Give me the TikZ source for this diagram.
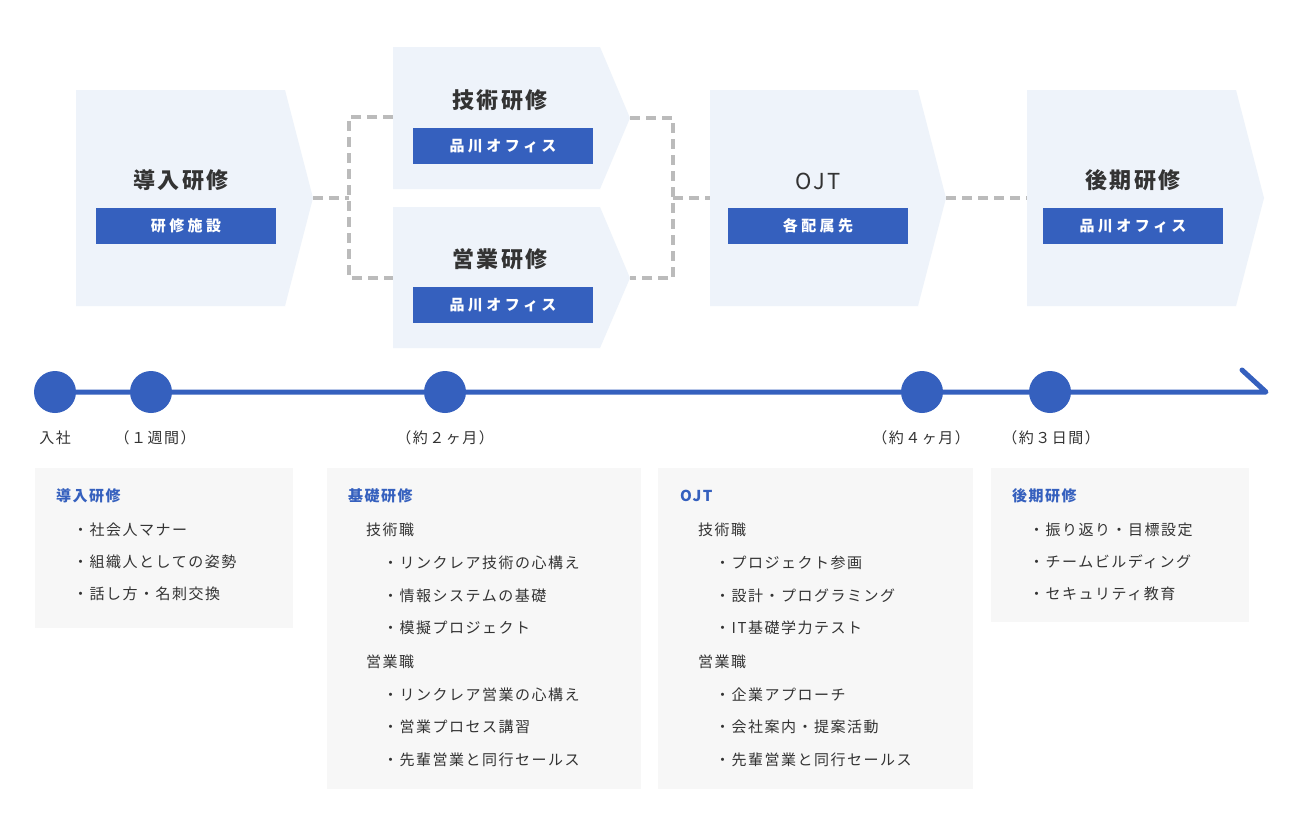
\documentclass[tikz,border=0pt]{standalone}
\usepackage{fontspec}
\setmainfont{Noto Sans CJK JP}
\newfontfamily\spacedfam[LetterSpace=10]{Noto Sans CJK JP}
\newfontfamily\placefam[LetterSpace=23]{Noto Sans CJK JP}
\usetikzlibrary{calc}
\definecolor{chevfill}{HTML}{EEF3FA}
\definecolor{mainblue}{HTML}{3560BE}
\definecolor{dashgray}{HTML}{BBBBBB}
\definecolor{boxgray}{HTML}{F7F7F7}
\definecolor{textdark}{HTML}{333333}

\begin{document}
\begin{tikzpicture}[x=1pt,y=-1pt,
  chev/.style={fill=chevfill},
  stage/.style={text=textdark,inner sep=0pt,font=\spacedfam\bfseries\fontsize{22}{26}\selectfont},
  place/.style={fill=mainblue,text=white,minimum width=180pt,minimum height=36pt,inner sep=0pt,
    font=\placefam\bfseries\fontsize{15}{18}\selectfont},
  dashlink/.style={draw=dashgray,line width=3.2pt,dash pattern=on 10pt off 6pt},
  dot/.style={circle,fill=mainblue,minimum size=42pt,inner sep=0pt},
  tline/.style={draw=mainblue,line width=5pt,line cap=round,line join=round},
  when/.style={text=textdark,inner sep=0pt,font=\spacedfam\fontsize{15}{18}\selectfont},
  infobox/.style={fill=boxgray,anchor=north west,inner sep=0pt},
  head/.style={anchor=west,text=mainblue,inner sep=0pt,font=\spacedfam\bfseries\fontsize{15}{18}\selectfont},
  item/.style={anchor=west,text=textdark,inner sep=0pt,font=\spacedfam\fontsize{15}{18}\selectfont}]
  \fill[white] (0,0) rectangle (1300,839);
  \useasboundingbox (0,0) rectangle (1300,839);

  \coordinate (fork-l) at (349,198);
  \coordinate (fork-r) at (673,198);
  \coordinate (tech-in) at (393,117);
  \coordinate (sales-in) at (393,278);
  \coordinate (ojt-in) at (710,198);
  \coordinate (late-in) at (1027,198);

  \fill[chev] (76,90) -- (285,90) -- (313,198) coordinate (intro-tip) -- (285,306) -- (76,306) -- cycle;
  \fill[chev] (393,47) -- (600,47) -- (630,118) coordinate (tech-tip) -- (600,189) -- (393,189) -- cycle;
  \fill[chev] (393,207) -- (600,207) -- (630,278) coordinate (sales-tip) -- (600,348) -- (393,348) -- cycle;
  \fill[chev] (710,90) -- (918,90) -- (946,198) coordinate (ojt-tip) -- (918,306) -- (710,306) -- cycle;
  \fill[chev] (1027,90) -- (1236,90) -- (1264,198) -- (1236,306) -- (1027,306) -- cycle;

  \draw[dashlink] (intro-tip) -- (fork-l);
  \draw[dashlink] (tech-in) -| (fork-l) |- (sales-in);
  \draw[dashlink] (tech-tip) -| (fork-r) |- (sales-tip);
  \draw[dashlink] (fork-r) -- (ojt-in);
  \draw[dashlink] (ojt-tip) -- (late-in);

  \node[stage] (intro) at (181,180) {導入研修};
  \node[place] (intro-p) at (186,226) {研修施設};
  \node[stage] (tech) at (500,100) {技術研修};
  \node[place] (tech-p) at (503,146) {品川オフィス};
  \node[stage] (sales) at (500,259) {営業研修};
  \node[place] (sales-p) at (503,305) {品川オフィス};
  \node[stage,font=\spacedfam\fontsize{22}{26}\selectfont] (ojt) at (818,181) {OJT};
  \node[place] (ojt-p) at (818,226) {各配属先};
  \node[stage] (late) at (1133,180) {後期研修};
  \node[place] (late-p) at (1133,226) {品川オフィス};

  \node[dot] (join) at (55,392) {};
  \node[dot] (week) at (151,392) {};
  \node[dot] (month2) at (445,392) {};
  \node[dot] (month4) at (922,392) {};
  \node[dot] (day3) at (1050,392) {};
  \coordinate (now) at (1266,392);
  \draw[tline] (join) -- (week) -- (month2) -- (month4) -- (day3) -- (now) -- ++(-24,-22);

  \node[when] (join-l) at (55,438) {入社};
  \node[when] (week-l) at (155,438) {（１週間）};
  \node[when] (month2-l) at (445,438) {（約２ヶ月）};
  \node[when] (month4-l) at (921,438) {（約４ヶ月）};
  \node[when] (day3-l) at (1051,438) {（約３日間）};

  \node[infobox,minimum width=258pt,minimum height=160pt] (intro-box) at (35,468) {};
  \node[infobox,minimum width=314pt,minimum height=321pt] (basic-box) at (327,468) {};
  \node[infobox,minimum width=315pt,minimum height=321pt] (ojt-box) at (658,468) {};
  \node[infobox,minimum width=258pt,minimum height=154pt] (late-box) at (991,468) {};

  \node[head] (intro-h) at (56,496) {導入研修};
  \node[item] (intro-1) at (73,530) {・社会人マナー};
  \node[item] (intro-2) at (73,562) {・組織人としての姿勢};
  \node[item] (intro-3) at (73,594) {・話し方・名刺交換};

  \node[head] (basic-h) at (348,496) {基礎研修};
  \node[item] (basic-t) at (366,530) {技術職};
  \node[item] (basic-t1) at (383,563) {・リンクレア技術の心構え};
  \node[item] (basic-t2) at (383,596) {・情報システムの基礎};
  \node[item] (basic-t3) at (383,628) {・模擬プロジェクト};
  \node[item] (basic-s) at (366,662) {営業職};
  \node[item] (basic-s1) at (383,695) {・リンクレア営業の心構え};
  \node[item] (basic-s2) at (383,727) {・営業プロセス講習};
  \node[item] (basic-s3) at (383,760) {・先輩営業と同行セールス};

  \node[head] (ojt-h) at (680,496) {OJT};
  \node[item] (ojt-t) at (698,530) {技術職};
  \node[item] (ojt-t1) at (715,563) {・プロジェクト参画};
  \node[item] (ojt-t2) at (715,596) {・設計・プログラミング};
  \node[item] (ojt-t3) at (715,628) {・IT基礎学力テスト};
  \node[item] (ojt-s) at (698,662) {営業職};
  \node[item] (ojt-s1) at (715,695) {・企業アプローチ};
  \node[item] (ojt-s2) at (715,727) {・会社案内・提案活動};
  \node[item] (ojt-s3) at (715,760) {・先輩営業と同行セールス};

  \node[head] (late-h) at (1012,496) {後期研修};
  \node[item] (late-1) at (1029,530) {・振り返り・目標設定};
  \node[item] (late-2) at (1029,562) {・チームビルディング};
  \node[item] (late-3) at (1029,594) {・セキュリティ教育};
\end{tikzpicture}
\end{document}
